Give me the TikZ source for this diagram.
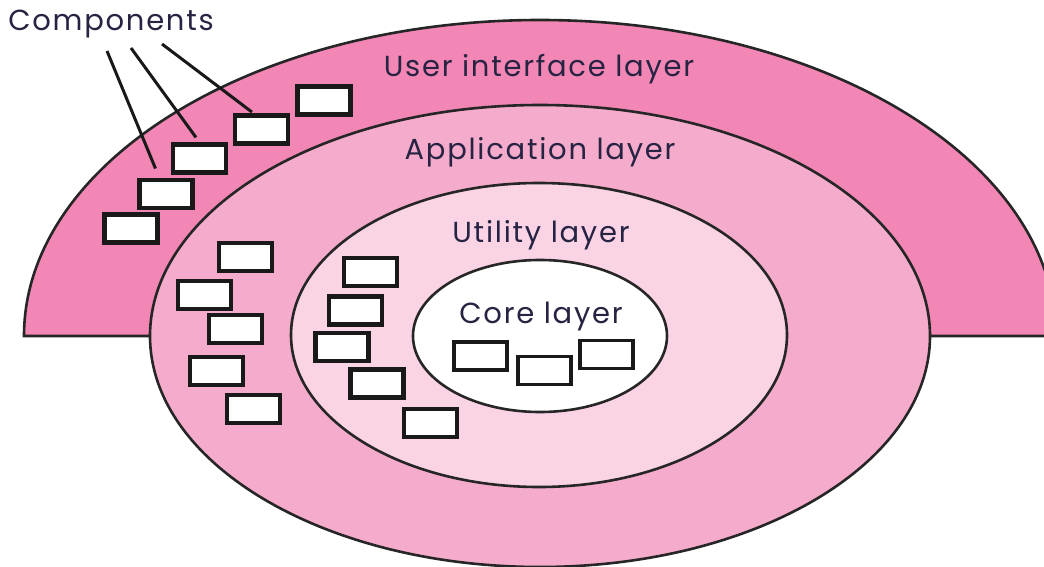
\documentclass[tikz,border=0pt]{standalone}
\usepackage{fontspec}
\setmainfont{Poppins}[LetterSpace=6]
\definecolor{uipink}{RGB}{242,134,181}
\definecolor{apppink}{RGB}{245,171,203}
\definecolor{utilpink}{RGB}{250,211,229}
\definecolor{labelink}{RGB}{38,36,66}

\begin{document}
\begin{tikzpicture}[
    x=1pt, y=-1pt,
    layer/.style={draw=black!85, line width=2.6pt},
    comp/.style={rectangle, draw=black!90, fill=white, line width=4.5pt, minimum width=53pt, minimum height=28pt, inner sep=0pt},
    corecomp/.style={comp, line width=3.5pt, minimum width=53pt, minimum height=28pt},
    lbl/.style={font=\fontsize{29}{32}\selectfont, text=labelink, anchor=base},
    lead/.style={draw=black!90, line width=3pt}
]
\useasboundingbox (0,0) rectangle (1044,567);
\clip (0,0) rectangle (1044,567);
% Layers, outside in
\draw[layer, fill=uipink] (24,336) arc[start angle=180, end angle=0, x radius=516pt, y radius=316pt] -- cycle;
\draw[layer, fill=apppink] (540,336) ellipse [x radius=390pt, y radius=231pt];
\draw[layer, fill=utilpink] (539,335) ellipse [x radius=248pt, y radius=152pt];
\draw[layer, fill=white] (540,336) ellipse [x radius=127pt, y radius=76pt];

% User interface layer components
\node[comp] (ui1) at (324,100.5) {};
\node[comp] (ui2) at (261.5,129.5) {};
\node[comp] (ui3) at (199.5,158.5) {};
\node[comp] (ui4) at (166,194) {};
\node[comp] (ui5) at (131,228.5) {};
% Application layer components
\node[comp] (app1) at (245.5,257) {};
\node[comp] (app2) at (204.5,295) {};
\node[comp] (app3) at (235.5,329) {};
\node[comp] (app4) at (216.5,371) {};
\node[comp] (app5) at (253.5,409) {};
% Utility layer components
\node[comp] (ut1) at (370.5,272) {};
\node[comp] (ut2) at (355.5,310.5) {};
\node[comp] (ut3) at (342,347) {};
\node[comp] (ut4) at (377,383.5) {};
\node[comp] (ut5) at (430.5,423) {};
% Core layer components
\node[corecomp] (core1) at (480.5,356) {};
\node[corecomp] (core2) at (544.5,370.5) {};
\node[corecomp] (core3) at (606.5,354.5) {};

% Labels
\node[lbl] (uilbl) at (539,77) {User interface layer};
\node[lbl] (applbl) at (540,160) {Application layer};
\node[lbl] (utlbl) at (541,242) {Utility layer};
\node[lbl] (corelbl) at (541,323) {Core layer};
\node[lbl] (complbl) at (111,31) {Components};

% Leader lines from the Components label
\coordinate (l1) at (107,51);
\coordinate (l2) at (131,48);
\coordinate (l3) at (162,44);
\draw[lead, shorten >=10pt] (l1) -- (ui4);
\draw[lead, shorten >=6pt] (l2) -- (ui3.north);
\draw[lead, shorten >=2pt] (l3) -- ([xshift=-8pt]ui2.north);
\end{tikzpicture}
\end{document}
